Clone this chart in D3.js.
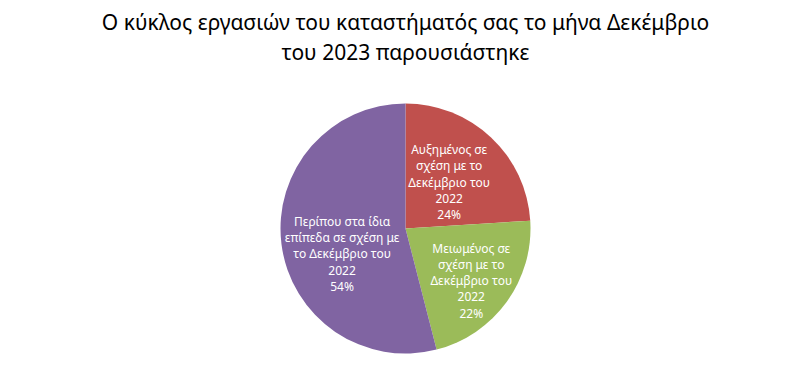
<!DOCTYPE html>
<html>
<head>
<meta charset="utf-8">
<script src="https://cdn.jsdelivr.net/npm/d3@7"></script>
<style>
  body { margin: 0; background: #fff; }
  text { font-family: "Noto Sans", sans-serif; }
</style>
</head>
<body>
<div id="container"></div>
<script>
const titleLines = ['Ο κύκλος εργασιών του καταστήματός σας το μήνα Δεκέμβριο', 'του 2023 παρουσιάστηκε'];
const categories = [
  ['Αυξημένος σε', 'σχέση με το', 'Δεκέμβριο του', '2022'],
  ['Μειωμένος σε', 'σχέση με το', 'Δεκέμβριο του', '2022'],
  ['Περίπου στα ίδια', 'επίπεδα σε σχέση με', 'το Δεκέμβριο του', '2022']
];
const values = [24, 22, 54];
const colors = ['#C0504D', '#9BBB59', '#8064A2'];

// label placement (fraction of radius, then a small nudge), like Excel's "best fit"
const labelFrac = [0.51, 0.67, 0.6];
const labelNudge = [[0, 0], [-2, 3], [11, 16]];

const w = 811, h = 388,
      cx = 405.5, cy = 228.5,
      radius = 125,
      lineH = 16.2;

let svg = d3.select("#container")
    .append("svg")
    .attr("width", w)
    .attr("height", h);

svg.append("g")
    .attr("class", "title")
    .selectAll("text")
    .data(titleLines)
    .enter()
    .append("text")
    .attr("x", cx)
    .attr("y", (d, i) => 30 + i * 30)
    .attr("text-anchor", "middle")
    .attr("font-size", 21)
    .attr("fill", "#000")
    .text(d => d);

const pie = d3.pie().sort(null).value(d => d);
const arc = d3.arc().innerRadius(0).outerRadius(radius);

let g = svg.append("g")
    .attr("transform", "translate(" + cx + "," + cy + ")");

let slices = g.selectAll("g.slice")
    .data(pie(values))
    .enter()
    .append("g")
    .attr("class", "slice");

slices.append("path")
    .attr("d", arc)
    .attr("fill", (d, i) => colors[i]);

slices.append("text")
    .attr("transform", (d, i) => {
        const r = radius * labelFrac[i];
        const c = d3.arc().innerRadius(r).outerRadius(r).centroid(d);
        return "translate(" + (c[0] + labelNudge[i][0]) + "," + (c[1] + labelNudge[i][1]) + ")";
    })
    .attr("text-anchor", "middle")
    .attr("font-size", 12)
    .attr("fill", "#fff")
    .each(function(d, i) {
        const lines = categories[i].concat([values[i] + "%"]);
        const t = d3.select(this);
        lines.forEach((l, j) => {
            t.append("tspan")
                .attr("x", 0)
                .attr("y", (j - (lines.length - 1) / 2) * lineH + 4.5)
                .text(l);
        });
    });
</script>
</body>
</html>
